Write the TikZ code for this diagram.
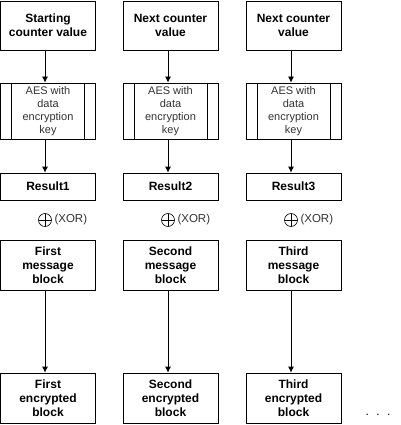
\documentclass[tikz,border=0pt]{standalone}
\usepackage{fontspec}
\setmainfont{Liberation Sans}
\usetikzlibrary{positioning}
\usetikzlibrary{arrows.meta}
\tikzset{
    block/.style={draw, line width=0.8pt, minimum width=95pt, inner sep=0pt,
        align=center, font=\fontsize{12}{14}\selectfont\bfseries},
    aesBlock/.style={draw, line width=0.8pt, minimum width=95pt, minimum height=56pt,
        inner sep=0pt, align=center, text=black!80, font=\fontsize{11}{13}\selectfont,
        path picture={
            \draw[line width=0.8pt] ([xshift=11pt]path picture bounding box.north west) -- ([xshift=11pt]path picture bounding box.south west);
            \draw[line width=0.8pt] ([xshift=-11pt]path picture bounding box.north east) -- ([xshift=-11pt]path picture bounding box.south east);
        }},
    xorSign/.style={circle, draw, line width=0.6pt, minimum size=13pt, inner sep=0pt,
        path picture={
            \draw[line width=0.6pt] (path picture bounding box.north) -- (path picture bounding box.south);
            \draw[line width=0.6pt] (path picture bounding box.west) -- (path picture bounding box.east);
        }},
    xorText/.style={right=2.5pt of #1, inner sep=0pt, text=black!80, font=\fontsize{11.5}{13}\selectfont},
    flow/.style={line width=0.8pt, -{Latex[length=6pt,width=6pt]}}
}
\begin{document}
\begin{tikzpicture}[x=1pt,y=-1pt]
    \useasboundingbox (0,0) rectangle (400,425);
    % counter values
    \node[block, minimum height=49pt] (ctr1) at (48,25.5) {Starting\\counter value};
    \node[block, minimum height=49pt] (ctr2) at (170.5,25.5) {Next counter\\value};
    \node[block, minimum height=49pt] (ctr3) at (293.5,25.5) {Next counter\\value};
    % AES stages
    \node[aesBlock] (aes1) at (48,111) {AES with\\data\\encryption\\key};
    \node[aesBlock] (aes2) at (170.5,111) {AES with\\data\\encryption\\key};
    \node[aesBlock] (aes3) at (293.5,111) {AES with\\data\\encryption\\key};
    % results
    \node[block, minimum height=27pt] (res1) at (48,186.5) {Result1};
    \node[block, minimum height=27pt] (res2) at (170.5,186.5) {Result2};
    \node[block, minimum height=27pt] (res3) at (293.5,186.5) {Result3};
    % xor
    \node[xorSign] (xor1) at (45,220) {};
    \node[xorText=xor1] (xorl1) {(XOR)};
    \node[xorSign] (xor2) at (168,220) {};
    \node[xorText=xor2] (xorl2) {(XOR)};
    \node[xorSign] (xor3) at (291,220) {};
    \node[xorText=xor3] (xorl3) {(XOR)};
    % message blocks
    \node[block, minimum height=50pt] (msg1) at (48,265) {First\\message\\block};
    \node[block, minimum height=50pt] (msg2) at (170.5,265) {Second\\message\\block};
    \node[block, minimum height=50pt] (msg3) at (293.5,265) {Third\\message\\block};
    % encrypted blocks
    \node[block, minimum height=50pt] (enc1) at (48,398) {First\\encrypted\\block};
    \node[block, minimum height=50pt] (enc2) at (170.5,398) {Second\\encrypted\\block};
    \node[block, minimum height=50pt] (enc3) at (293.5,398) {Third\\encrypted\\block};
    \node[font=\fontsize{12}{14}\selectfont] (more) at (378,414.5) {.\hspace{7.5pt}.\hspace{7.5pt}.};
    % arrows
    \draw[flow] ([xshift=-3pt]ctr1.south) -- ([xshift=-3pt]aes1.north);
    \draw[flow] ([xshift=-3pt]aes1.south) -- ([xshift=-3pt]res1.north);
    \draw[flow] ([xshift=-3pt]msg1.south) -- ([xshift=-3pt]enc1.north);
    \draw[flow] ([xshift=-2.5pt]ctr2.south) -- ([xshift=-2.5pt]aes2.north);
    \draw[flow] ([xshift=-2.5pt]aes2.south) -- ([xshift=-2.5pt]res2.north);
    \draw[flow] ([xshift=-2.5pt]msg2.south) -- ([xshift=-2.5pt]enc2.north);
    \draw[flow] ([xshift=-2.5pt]ctr3.south) -- ([xshift=-2.5pt]aes3.north);
    \draw[flow] ([xshift=-2.5pt]aes3.south) -- ([xshift=-2.5pt]res3.north);
    \draw[flow] ([xshift=-2.5pt]msg3.south) -- ([xshift=-2.5pt]enc3.north);
\end{tikzpicture}
\end{document}
